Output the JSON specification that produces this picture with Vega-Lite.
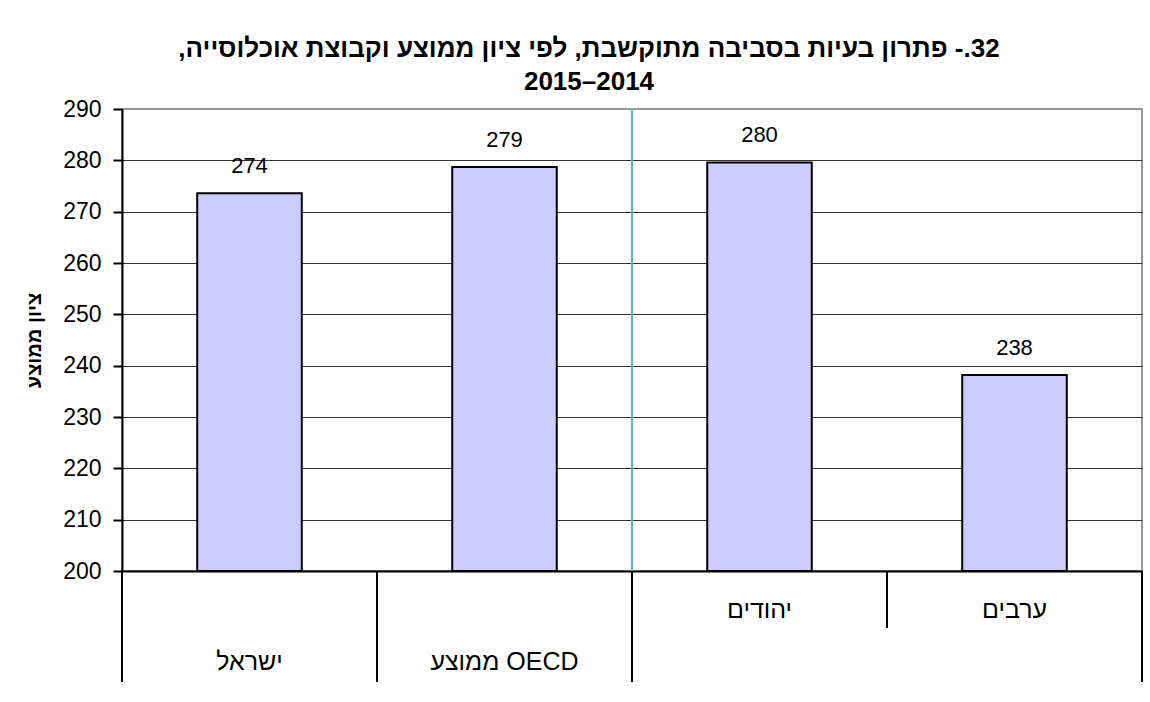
{
  "$schema": "https://vega.github.io/schema/vega-lite/v6.json",
  "width": 1020,
  "height": 462,
  "autosize": {"type": "pad"},
  "padding": {"left": 24, "top": 36, "right": 5, "bottom": 5},
  "background": "white",
  "config": {"view": {"stroke": "#999999", "strokeWidth": 2}, "font": "Liberation Sans"},
  "title": {
    "text": ["\u202B32.- פתרון בעיות בסביבה מתוקשבת, לפי ציון ממוצע וקבוצת אוכלוסייה,\u202C", "\u202B2014–2015\u202C"],
    "font": "Liberation Sans",
    "fontSize": 26,
    "fontWeight": "bold",
    "lineHeight": 33,
    "anchor": "middle",
    "frame": "group",
    "dx": -43,
    "offset": 3,
    "color": "black"
  },
  "data": {
    "values": [
      {"group": "ישראל", "score": 273.6},
      {"group": "ממוצע OECD", "score": 278.7},
      {"group": "יהודים", "score": 279.6},
      {"group": "ערבים", "score": 238.2}
    ]
  },
  "encoding": {
    "x": {
      "field": "group",
      "type": "nominal",
      "sort": null,
      "scale": {"domain": ["ישראל", "ממוצע OECD", "יהודים", "ערבים"], "paddingInner": 0, "paddingOuter": 0},
      "axis": {"labels": false, "ticks": false, "domain": true, "domainColor": "black", "domainWidth": 2, "title": null, "grid": false}
    }
  },
  "layer": [
    {
      "mark": {"type": "bar", "fill": "#CCCCFF", "stroke": "black", "strokeWidth": 2, "width": {"band": 0.41}},
      "encoding": {
        "y": {
          "field": "score",
          "type": "quantitative",
          "title": "ציון ממוצע",
          "scale": {"domain": [200, 290], "nice": false, "zero": false},
          "axis": {
            "values": [200, 210, 220, 230, 240, 250, 260, 270, 280, 290],
            "tickSize": 9,
            "tickWidth": 2,
            "tickColor": "black",
            "domainColor": "black",
            "domainWidth": 2,
            "labelFont": "Liberation Sans",
            "labelFontSize": 23,
            "labelColor": "black",
            "labelPadding": 12,
            "grid": true,
            "gridColor": {"condition": {"test": "datum.value === 290", "value": "#999999"}, "value": "#333333"},
            "gridWidth": 1,
            "titleFont": "Liberation Sans",
            "titleFontSize": 20,
            "titleFontWeight": "bold",
            "titleColor": "black",
            "titlePadding": 18
          }
        },
        "y2": {"datum": 200}
      }
    },
    {
      "mark": {"type": "text", "font": "Liberation Sans", "fontSize": 22, "dy": -20, "baseline": "alphabetic", "color": "black"},
      "encoding": {
        "y": {"field": "score", "type": "quantitative"},
        "text": {"field": "score", "type": "quantitative", "format": ".0f"}
      }
    },
    {
      "transform": [{"filter": "datum.group === 'יהודים'"}],
      "mark": {"type": "rule", "color": "#66b3b3", "strokeWidth": 2},
      "encoding": {
        "x": {"field": "group", "type": "nominal", "sort": null, "bandPosition": 0},
        "y": {"datum": 290, "type": "quantitative"},
        "y2": {"datum": 200}
      }
    },
    {
      "transform": [{"filter": "datum.group !== 'ערבים'"}],
      "mark": {"type": "rule", "color": "black", "strokeWidth": 2},
      "encoding": {
        "x": {"field": "group", "type": "nominal", "sort": null, "bandPosition": 0},
        "y": {"datum": 200, "type": "quantitative"},
        "y2": {"datum": 178.4}
      }
    },
    {
      "transform": [{"filter": "datum.group === 'ערבים'"}],
      "mark": {"type": "rule", "color": "black", "strokeWidth": 2},
      "encoding": {
        "x": {"field": "group", "type": "nominal", "sort": null, "bandPosition": 1},
        "y": {"datum": 200, "type": "quantitative"},
        "y2": {"datum": 178.4}
      }
    },
    {
      "transform": [{"filter": "datum.group === 'ערבים'"}],
      "mark": {"type": "rule", "color": "black", "strokeWidth": 2},
      "encoding": {
        "x": {"field": "group", "type": "nominal", "sort": null, "bandPosition": 0},
        "y": {"datum": 200, "type": "quantitative"},
        "y2": {"datum": 188.9}
      }
    },
    {
      "transform": [{"filter": {"field": "group", "oneOf": ["יהודים", "ערבים"]}}],
      "mark": {"type": "text", "font": "Liberation Sans", "fontSize": 25, "baseline": "middle", "dir": "rtl", "color": "black"},
      "encoding": {
        "y": {"datum": 192.4, "type": "quantitative"},
        "text": {"field": "group", "type": "nominal"}
      }
    },
    {
      "transform": [{"filter": {"field": "group", "oneOf": ["ישראל", "ממוצע OECD"]}}],
      "mark": {"type": "text", "font": "Liberation Sans", "fontSize": 25, "baseline": "middle", "dir": "rtl", "color": "black"},
      "encoding": {
        "y": {"datum": 182.3, "type": "quantitative"},
        "text": {"field": "group", "type": "nominal"}
      }
    }
  ]
}
